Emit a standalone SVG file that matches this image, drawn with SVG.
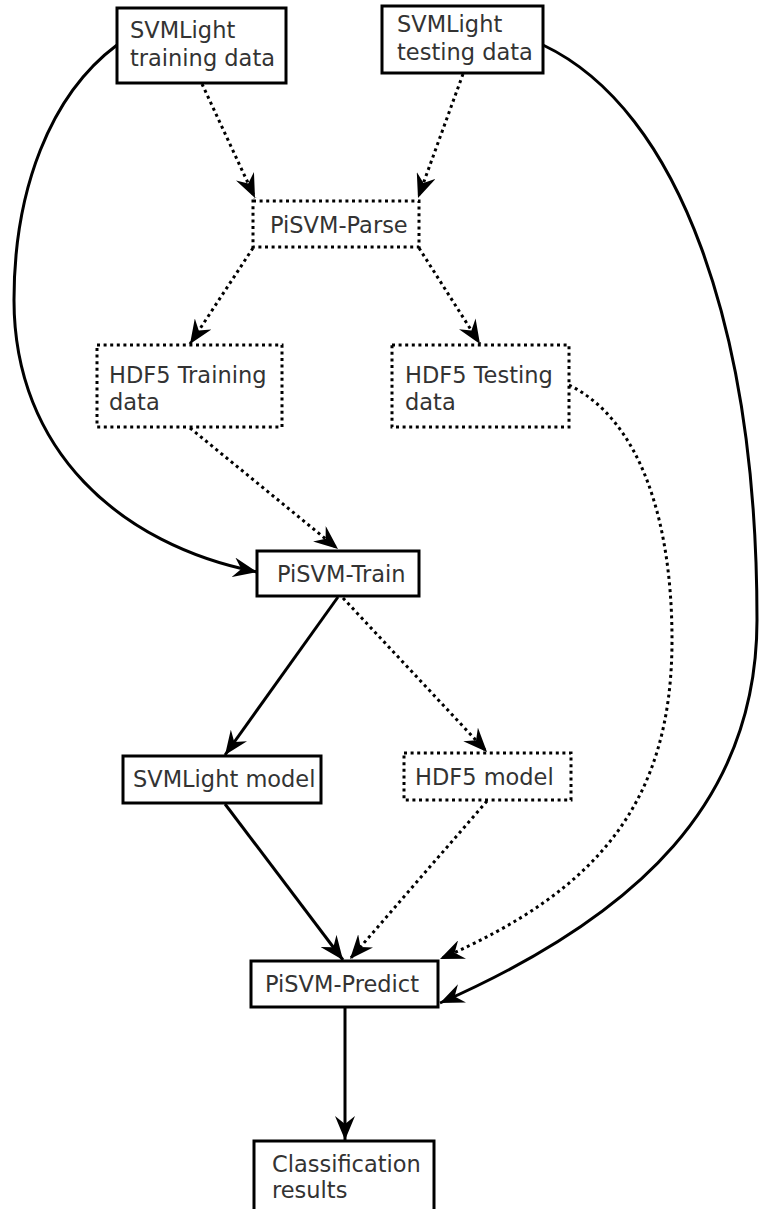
<svg xmlns="http://www.w3.org/2000/svg" width="759" height="1209" viewBox="0 0 759 1209">
<defs>
<style>
.box{fill:#fff;stroke:#000;stroke-width:3}
.dbox{fill:#fff;stroke:#000;stroke-width:3;stroke-dasharray:3 3.6}
.t{font-family:"DejaVu Sans",sans-serif;font-size:22.5px;fill:#333}
.e{fill:none;stroke:#000;stroke-width:3}
.d{fill:none;stroke:#000;stroke-width:3;stroke-dasharray:3 3.6}
</style>
<marker id="ah" viewBox="0 0 24 20" refX="24" refY="10" markerWidth="24" markerHeight="20" markerUnits="userSpaceOnUse" orient="auto">
<path d="M0,0 L24,10 L0,20 L8,10 z" fill="#000"/>
</marker>
</defs>
<rect width="759" height="1209" fill="#fff"/>
<g id="connectors">
<path class="d" d="M202,84 L255,198" marker-end="url(#ah)"/>
<path class="d" d="M463,74 L418,198" marker-end="url(#ah)"/>
<path class="d" d="M253,248 L190,344" marker-end="url(#ah)"/>
<path class="d" d="M419,248 L480,344" marker-end="url(#ah)"/>
<path class="d" d="M190,428 L338,549" marker-end="url(#ah)"/>
<path class="d" d="M569,385 C640,420 672,520 672,640 C672,800 600,890 440,959" marker-end="url(#ah)"/>
<path class="e" d="M117,45 C50,95 14,190 14,300 C14,450 120,545 257,572" marker-end="url(#ah)"/>
<path class="e" d="M543,45 C680,110 757,330 757,620 C757,800 640,915 440,1003" marker-end="url(#ah)"/>
<path class="e" d="M338,597 L225,755" marker-end="url(#ah)"/>
<path class="d" d="M343,598 L487,752" marker-end="url(#ah)"/>
<path class="e" d="M225,804 L343,960" marker-end="url(#ah)"/>
<path class="d" d="M487,801 L350,959" marker-end="url(#ah)"/>
<path class="e" d="M345,1008 L345,1140" marker-end="url(#ah)"/>
</g>
<g id="svmlight-training-data">
<rect class="box" x="117" y="8" width="169" height="75"/>
<text class="t" x="130" y="38">SVMLight</text>
<text class="t" x="130" y="66">training data</text>
</g>
<g id="svmlight-testing-data">
<rect class="box" x="382" y="6" width="161" height="67"/>
<text class="t" x="397" y="32">SVMLight</text>
<text class="t" x="397" y="60">testing data</text>
</g>
<g id="pisvm-parse">
<rect class="dbox" x="253" y="201" width="166" height="46"/>
<text class="t" x="270" y="233">PiSVM-Parse</text>
</g>
<g id="hdf5-training-data">
<rect class="dbox" x="97" y="345" width="185" height="82"/>
<text class="t" x="109" y="383">HDF5 Training</text>
<text class="t" x="109" y="410">data</text>
</g>
<g id="hdf5-testing-data">
<rect class="dbox" x="392" y="345" width="177" height="82"/>
<text class="t" x="405" y="383">HDF5 Testing</text>
<text class="t" x="405" y="410">data</text>
</g>
<g id="pisvm-train">
<rect class="box" x="257" y="551" width="162" height="45"/>
<text class="t" x="277" y="582">PiSVM-Train</text>
</g>
<g id="svmlight-model">
<rect class="box" x="123" y="756" width="198" height="47"/>
<text class="t" x="133" y="787">SVMLight model</text>
</g>
<g id="hdf5-model">
<rect class="dbox" x="404" y="753" width="167" height="47"/>
<text class="t" x="415" y="785">HDF5 model</text>
</g>
<g id="pisvm-predict">
<rect class="box" x="251" y="961" width="187" height="46"/>
<text class="t" x="265" y="992">PiSVM-Predict</text>
</g>
<g id="classification-results">
<rect class="box" x="254" y="1141" width="180" height="90"/>
<text class="t" x="272" y="1172">Classification</text>
<text class="t" x="272" y="1198">results</text>
</g>
</svg>
